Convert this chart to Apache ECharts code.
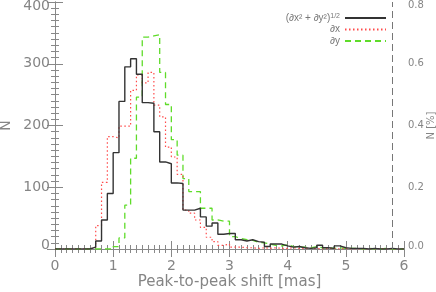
<!DOCTYPE html>
<html>
<head>
<meta charset="utf-8">
<script src="https://cdn.jsdelivr.net/npm/echarts@6/dist/echarts.min.js"></script>
<style>html,body{margin:0;padding:0;background:#fff}#c{width:436px;height:292px}</style>
</head>
<body>
<div id="c"></div>
<script>
// ---- data ----
const binStart = 0.0;
const binWidth = 0.1;
const seriesNames = ['(∂x² + ∂y²)^1/2', '∂x', '∂y'];
const totalShift = [0,0,0,0,0,0, 3,13,47,90,156,239,295,308,283,237,236,190,141,138,107,106,63,63,66,52,37,42,24,25,25,15,13,15,12,11,4,
  8,8,5,3,4,2,1,2,6,2,1,5,2,1,1,1,0,1,0,0,1,0,0];
const shiftX = [0,0,0,0,0,0, 3,38,108,182,180,199,199,257,282,269,286,233,214,165,149,121,63,58,47,35,19,12,6,8,3,
  3,2,2,1,2,1,2,1,1,2,1,1,1,1,0,1,1,0,1,0,0,0,0,0,1,0,0,0,0];
const shiftY = [0,0,0,0,0,0,0,0,0,0, 4,18,71,147,246,343,345,347,286,234,177,152,114,93,93,66,66,47,45,45,20,17,15,14,11,10,8,
  6,5,7,4,3,3,2,4,2,2,1,2,1,1,1,0,1,0,0,1,0,0,0];
const cutoff = 5.8;
const xTicks = [0, 6, 1];      // min, max, interval
const yLeftTicks = [0, 400, 100];
const yRightTicks = [0, 0.8, 0.2];
const xTitle = 'Peak-to-peak shift [mas]';
const yLeftTitle = 'N';
const yRightTitle = 'N [%]';

// ---- build ----
function steps(vals) {
  const d = vals.map((v, i) => [+(binStart + i * binWidth).toFixed(3), v]);
  d.push([+(binStart + vals.length * binWidth).toFixed(3), vals[vals.length - 1]]);
  return d;
}
const gray = '#888';
const txt = '#858585';
const axisCommon = {
  axisLine: { show: true, lineStyle: { color: gray, width: 1 } },
  axisTick: { show: true, inside: true, length: 8, lineStyle: { color: gray } },
  minorTick: { show: true, splitNumber: 10, length: 4, lineStyle: { color: gray } },
  splitLine: { show: false },
  minorSplitLine: { show: false }
};
const chart = echarts.init(document.getElementById('c'), null, { renderer: 'canvas' });
const option = {
  animation: false,
  backgroundColor: '#fff',
  grid: { left: 55, right: 32, top: 2, bottom: 43, containLabel: false, outerBoundsMode: 'none' },
  legend: {
    orient: 'vertical', align: 'right', right: 49, top: 13, padding: 0,
    itemWidth: 41, itemHeight: 8, itemGap: 1.5,
    data: seriesNames,
    itemStyle: { opacity: 0 },
    textStyle: {
      fontFamily: 'Liberation Sans', fontSize: 10, color: '#777', lineHeight: 10,
      rich: {
        m: { fontFamily: 'Liberation Sans', fontSize: 10, color: '#777', lineHeight: 10 },
        s: { fontFamily: 'Liberation Sans', fontSize: 7, color: '#777', verticalAlign: 'top', lineHeight: 10 }
      }
    },
    formatter: function (n) {
      const k = n.indexOf('^');
      if (k < 0) return '{m|' + n + '}';
      return '{m|' + n.slice(0, k) + '}{s|' + n.slice(k + 1) + '}';
    }
  },
  xAxis: [
    Object.assign({}, axisCommon, {
      type: 'value', min: xTicks[0], max: xTicks[1], interval: xTicks[2], position: 'bottom',
      name: xTitle, nameLocation: 'middle', nameGap: 26, nameMoveOverlap: false,
      nameTextStyle: { fontFamily: 'DejaVu Sans', fontSize: 15, color: txt },
      axisLabel: { margin: 10, fontFamily: 'DejaVu Sans', fontSize: 14, color: txt }
    }),
    Object.assign({}, axisCommon, {
      type: 'value', min: xTicks[0], max: xTicks[1], interval: xTicks[2], position: 'top',
      axisLabel: { show: false }
    })
  ],
  yAxis: [
    Object.assign({}, axisCommon, {
      type: 'value', min: yLeftTicks[0], max: yLeftTicks[1], interval: yLeftTicks[2], position: 'left',
      name: yLeftTitle, nameLocation: 'middle', nameGap: 42, nameRotate: 90, nameMoveOverlap: false,
      nameTextStyle: { fontFamily: 'DejaVu Sans', fontSize: 14, color: txt },
      axisLabel: {
        margin: 5, fontFamily: 'DejaVu Sans', fontSize: 14, color: txt,
        formatter: function (v) {
          if (v === yLeftTicks[1]) return '{t|' + v + '}';
          if (v === yLeftTicks[0]) return '{b|' + v + '}';
          return String(v);
        },
        rich: {
          t: { fontFamily: 'DejaVu Sans', fontSize: 14, color: txt, padding: [8, 0, 0, 0] },
          b: { fontFamily: 'DejaVu Sans', fontSize: 14, color: txt, padding: [0, 0, 8, 0] }
        }
      }
    }),
    Object.assign({}, axisCommon, {
      type: 'value', min: yRightTicks[0], max: yRightTicks[1], interval: yRightTicks[2], position: 'right',
      name: yRightTitle, nameLocation: 'middle', nameGap: 22, nameRotate: 90, nameMoveOverlap: false,
      nameTextStyle: { fontFamily: 'DejaVu Sans', fontSize: 10, color: txt },
      axisLabel: {
        margin: 4, fontFamily: 'DejaVu Sans', fontSize: 10, color: txt,
        formatter: function (v) {
          const s = v.toFixed(1);
          if (Math.abs(v - yRightTicks[1]) < 1e-9) return '{t|' + s + '}';
          if (v === yRightTicks[0]) return '{b|' + s + '}';
          return s;
        },
        rich: {
          t: { fontFamily: 'DejaVu Sans', fontSize: 10, color: txt, padding: [6, 0, 0, 0] },
          b: { fontFamily: 'DejaVu Sans', fontSize: 10, color: txt, padding: [0, 0, 6, 0] }
        }
      }
    })
  ],
  series: [
    {
      name: seriesNames[2], type: 'line', step: 'end', symbol: 'none', z: 2,
      data: steps(shiftY),
      lineStyle: { color: '#5fdc2a', width: 1.3, type: [6, 4] },
      itemStyle: { color: '#5fdc2a' },
      markLine: {
        silent: true, symbol: 'none', label: { show: false },
        lineStyle: { color: '#777', width: 1, type: [7, 4] },
        data: [{ xAxis: cutoff }]
      }
    },
    {
      name: seriesNames[1], type: 'line', step: 'end', symbol: 'none', z: 3,
      data: steps(shiftX),
      lineStyle: { color: '#ff4a4a', width: 1.2, type: [1.5, 2.5] },
      itemStyle: { color: '#ff4a4a' }
    },
    {
      name: seriesNames[0], type: 'line', step: 'end', symbol: 'none', z: 4,
      data: steps(totalShift),
      lineStyle: { color: '#333', width: 1.4 },
      itemStyle: { color: '#333' }
    }
  ]
};
chart.setOption(option);
</script>
</body>
</html>
